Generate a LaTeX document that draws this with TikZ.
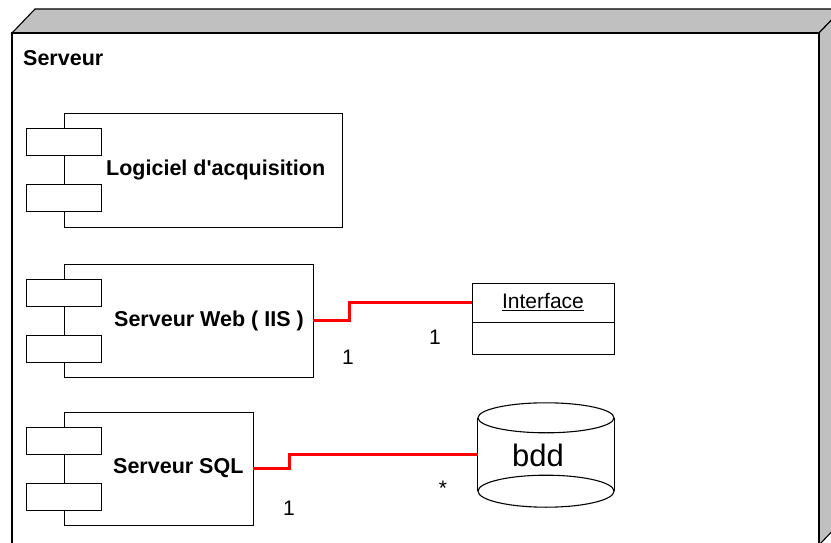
\documentclass[tikz,border=0pt]{standalone}
\usepackage{fontspec}
\setmainfont{Liberation Sans}
\usepackage{xcolor}
\usepackage{tikz}
\usetikzlibrary{calc, positioning}
\definecolor{cadregris}{RGB}{192,192,192}

\begin{document}
\begin{tikzpicture}[x=1pt, y=-1pt,
        every node/.style={font=\fontsize{21}{25}\selectfont},
        compo/.style={draw, line width=0.9pt, inner sep=0pt},
        port/.style={draw, fill=white, line width=0.9pt, minimum width=75pt, minimum height=27pt, inner sep=0pt},
        etiq/.style={font=\fontsize{21.5}{25}\selectfont\bfseries, inner sep=0pt, anchor=west},
        lien/.style={draw=red, line width=2.7pt}]
            \useasboundingbox (0,0) rectangle (831,543);
            \clip (0,0) rectangle (831,543);
            
            % le noeud Serveur
            \filldraw[fill=cadregris, line width=1.1pt] (12,33) -- (35,9) -- (842,9) -- (819,33) -- cycle;
            \filldraw[fill=cadregris, line width=1.1pt] (819,33) -- (842,9) -- (842,521) -- (819,545) -- cycle;
            \filldraw[fill=white, line width=1.1pt] (12,33) rectangle (819,545);
            \node[etiq] (srv) at (23,58) {Serveur};
            
            % composants
            \node[compo, minimum width=278pt, minimum height=114pt] (logi) at (203,170) {};
            \node[port] (logi1) at ([yshift=28pt]logi.west) {};
            \node[port] (logi2) at ([yshift=-28pt]logi.west) {};
            \node[etiq] (logitxt) at (106,170) {Logiciel d\textquotesingle acquisition};
            
            \node[compo, minimum width=249pt, minimum height=113pt] (web) at (188.5,320.5) {};
            \node[port] (web1) at ([yshift=28pt]web.west) {};
            \node[port] (web2) at ([yshift=-28pt]web.west) {};
            \node[etiq] (webtxt) at (114,320.5) {Serveur Web ( IIS )};
            
            \node[compo, minimum width=189pt, minimum height=113pt] (sql) at (158.5,468.5) {};
            \node[port] (sql1) at ([yshift=28pt]sql.west) {};
            \node[port] (sql2) at ([yshift=-28pt]sql.west) {};
            \node[etiq] (sqltxt) at (113,468.5) {Serveur SQL};
            
            % interface
            \node[draw, line width=0.9pt, minimum width=142pt, minimum height=39pt, inner sep=0pt] (iface) at (543,302.5) {\underline{Interface}};
            \node[draw, line width=0.9pt, minimum width=142pt, minimum height=32pt, inner sep=0pt, below=0pt of iface] (ifacebas) {};
            
            % base de donnees
            \node[minimum width=136pt, minimum height=73pt, inner sep=0pt] (bdd) at (546,454.5) {};
            \draw[line width=1.1pt] (bdd.north west) -- (bdd.south west);
            \draw[line width=1.1pt] (bdd.north east) -- (bdd.south east);
            \draw[line width=1.1pt] (bdd.north) ellipse [x radius=68pt, y radius=15pt];
            \draw[line width=1.1pt] (bdd.south) ellipse [x radius=68pt, y radius=16pt];
            \node[font=\fontsize{31}{36}\selectfont] (bddtxt) at (538,455) {bdd};
            
            \draw[lien] (web.east) -- ++(36,0) |- (iface.west);
            \draw[lien] (sql.east) -- ++(36,0) |- (bdd.west);
            
            \node (m1) at (348,357) {1};
            \node (m2) at (435,337) {1};
            \node (m3) at (289,508) {1};
            \node (m4) at (443,488) {*};
        \end{tikzpicture}
\end{document}
